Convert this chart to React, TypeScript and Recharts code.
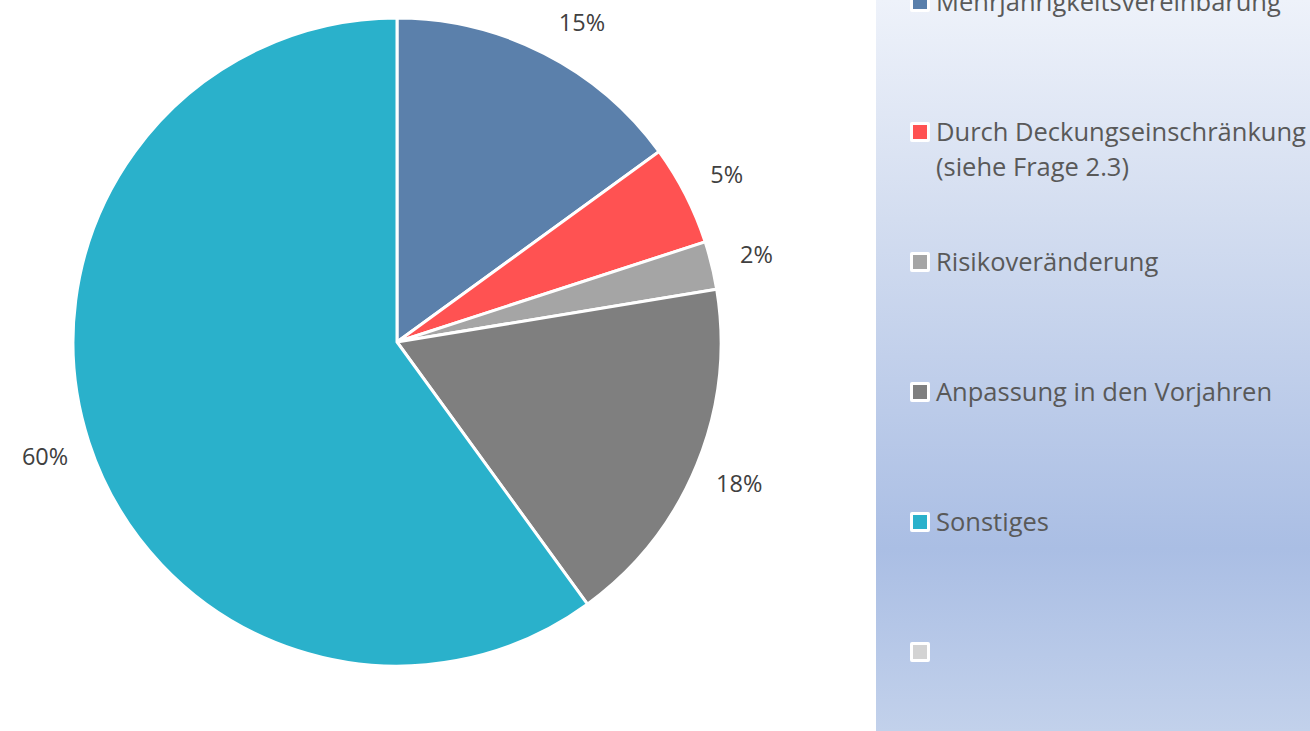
import { PieChart, Pie, Cell } from 'recharts'

const categories = [
  'Mehrjährigkeitsvereinbarung',
  'Durch Deckungseinschränkung\n(siehe Frage 2.3)',
  'Risikoveränderung',
  'Anpassung in den Vorjahren',
  'Sonstiges',
]
const shares = [15, 5, 2.4, 17.6, 60]
const colors = ['#5B80AB', '#FF5252', '#A5A5A5', '#7F7F7F', '#2AB1CB']
// small angular nudge (deg, clockwise) of each data label, like Excel's best-fit
const labelNudge = [3, 0, 0, 0, 0]

// legend has an extra empty entry at the bottom
const legendNames = [...categories, '']
const legendColors = [...colors, '#D3D3D3']

const data = categories.map((name, i) => ({ name, value: shares[i] }))

const RAD = Math.PI / 180

const renderLabel = ({ cx, cy, midAngle, outerRadius, percent, index }: any) => {
  const r = outerRadius + 46
  const a = (midAngle - (labelNudge[index] || 0)) * RAD
  const x = cx + r * Math.cos(-a)
  const y = cy + r * Math.sin(-a)
  return (
    <text
      x={x}
      y={y}
      fill="#404040"
      fontSize={23.5}
      textAnchor="middle"
      dominantBaseline="central"
    >
      {`${Math.round(percent * 100)}%`}
    </text>
  )
}

function SideLegend() {
  return (
    <div
      style={{
        position: 'absolute',
        left: 876,
        top: 0,
        width: 434,
        height: 731,
        background: 'linear-gradient(180deg, #EEF2FA 0%, #D3DDF0 30%, #AABEE4 75%, #C2D1EB 100%)',
        overflow: 'hidden',
      }}
    >
      {legendNames.map((name, i) => {
        const cy = 2 + i * 130
        return (
          <div key={i}>
            <div
              style={{
                position: 'absolute',
                left: 34,
                top: cy - 10,
                width: 14,
                height: 14,
                border: '3px solid #fff',
                borderRadius: 2,
                background: legendColors[i],
              }}
            />
            <div
              style={{
                position: 'absolute',
                left: 60,
                top: cy - 18,
                lineHeight: '35px',
                fontSize: 25.5,
                color: '#595959',
                whiteSpace: 'pre-line',
              }}
            >
              {name}
            </div>
          </div>
        )
      })}
    </div>
  )
}

export default function App() {
  return (
    <div
      style={{
        position: 'fixed',
        left: 0,
        top: 0,
        width: 1310,
        height: 731,
        background: '#fff',
        fontFamily: '"Open Sans", sans-serif',
        overflow: 'hidden',
      }}
    >
      <PieChart width={876} height={731} margin={{ top: 0, right: 0, bottom: 0, left: 0 }}>
        <Pie
          data={data}
          dataKey="value"
          nameKey="name"
          cx={397}
          cy={342}
          outerRadius={324}
          startAngle={90}
          endAngle={-270}
          stroke="#fff"
          strokeWidth={3}
          label={renderLabel}
          labelLine={false}
          isAnimationActive={false}
        >
          {data.map((d, i) => (
            <Cell key={d.name} fill={colors[i]} />
          ))}
        </Pie>
      </PieChart>
      <SideLegend />
    </div>
  )
}
